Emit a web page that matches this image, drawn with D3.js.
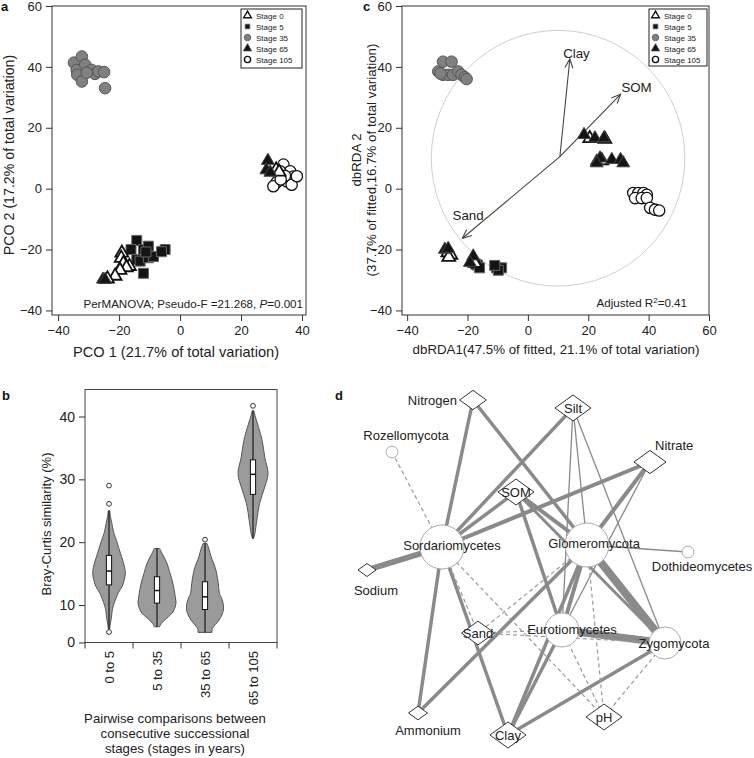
<!DOCTYPE html>
<html><head><meta charset="utf-8">
<script src="https://cdn.jsdelivr.net/npm/d3@7"></script>
<style>
body{margin:0;background:#fff}
svg{display:block;font-family:"Liberation Sans",Arial,Helvetica,sans-serif}
</style>
</head><body>
<svg id="chart" width="754" height="758"></svg>
<script>
// ================= DATA =================
const stageNames = ["Stage 0","Stage 5","Stage 35","Stage 65","Stage 105"];
const axisTicksX_A = [-40,-20,0,20,40];
const axisTicksY_AC = [-40,-20,0,20,40,60];
const axisTicksX_C = [-40,-20,0,20,40,60];

// Panel a: PCO scores per stage [PCO1, PCO2]
const pcoStage0 = [[-19.1,-21.1],[-19.3,-22.8],[-18.6,-24.6],[-16.6,-25.5],[-17.6,-25.9],[-19.7,-26.8],[-21.3,-28.7],[-23.8,-29.6],[31.5,6.2],[32.5,5.5]];
const pcoStage5 = [[-14.2,-17],[-16.1,-20],[-12.0,-20],[-10.4,-18.9],[-14.2,-23.3],[-13.1,-23.8],[-10.4,-22.7],[-8.7,-22.3],[-12.0,-27.8],[-4.9,-20],[-6.1,-20.7],[-11.2,-20.8]];
const pcoStage35 = [[-34.8,41.4],[-32.2,43.4],[-33.9,39],[-31.1,40.7],[-33.7,37.4],[-32.2,35.2],[-29,39],[-27.9,37.7],[-26.8,38.5],[-24.9,38.3],[-24.6,33],[-30.6,38.1]];
const pcoStage65 = [[-25.3,-29.8],[-24.6,-29.9],[28.8,9.2],[28.3,6.1],[29.6,5.3]];
const pcoStage105 = [[33.9,7.9],[36.1,5.7],[32.8,5.7],[37.2,4],[35,2.4],[31.7,2.1],[30.6,0.8],[36.6,1.3],[38.3,4.1],[34.4,4.2],[33,3]];

// Panel c: dbRDA scores per stage [dbRDA1, dbRDA2]
const rdaStage0 = [[20.5,16.5],[25.5,16.3],[24.5,9.2],[-26.5,-21],[-25.5,-21.8],[-26.2,-22.5],[-18,-23.5],[-17.5,-24.5]];
const rdaStage5 = [[-16.7,-25.1],[-17.3,-24.8],[-10.4,-26],[-8.7,-26],[-9.8,-26.8],[-11,-25.2],[-16,-26]];
const rdaStage35 = [[-29.7,38.5],[-28.1,41.7],[-25.3,41.7],[-28.1,37.4],[-26.4,37.4],[-24.8,37.4],[-23.1,38.5],[-22,37.4],[-20.9,36.6],[-20.3,36],[-29,37.8]];
const rdaStage65 = [[18.6,17.7],[22.2,16.6],[25.2,16.6],[22.8,9],[23.9,10],[27.8,9.5],[30.7,9.5],[31.6,8.4],[22.8,8.4],[-27.5,-20],[-26.4,-19.7],[-18.1,-22.2],[-19.2,-24.3]];
const rdaStage105 = [[34.9,-1.4],[36.6,-1.4],[38.3,-1.4],[39.4,-2],[35.5,-3.1],[37.7,-3.1],[39.4,-3.1],[40.5,-6.3],[42.1,-6.9],[43.5,-7.2]];
// vectors (origin, tip) for environmental variables
const vectorNames = ["Clay","SOM","Sand"];
const vectorOrigin = [10.6,10.5];
const vectorTips = [[13.9,42.6],[30.7,31],[-21.7,-16.3]];
const vectorLabelAt = [[16.1,44.7],[36,33.5],[-19.8,-8.5]];
const circleCenter = [10,10];
const circleRadius = 42;

// Panel b: violins
const violinCats = ["0 to 5","5 to 35","35 to 65","65 to 105"];
const violinTicksY = [0,10,20,30,40];
const violinDensity = [
  [[3.5,0.03],[5,0.07],[6.5,0.12],[8.5,0.17],[9.7,0.22],[11,0.36],[11.9,0.48],[13,0.7],[14,0.8],[15,0.86],[16,0.82],[17.7,0.66],[19,0.52],[20.3,0.39],[21.5,0.25],[23,0.15],[24,0.08],[25,0.04]],
  [[4.2,0.14],[5,0.22],[6,0.4],[7.8,0.79],[9,0.92],[10.3,1.0],[11.3,0.96],[12.5,0.9],[14,0.79],[15.3,0.66],[16.6,0.53],[18,0.3],[19,0.14]],
  [[2.7,0.37],[3.75,0.39],[6,0.74],[8.7,0.97],[10.8,0.91],[11.8,0.76],[13.4,0.7],[15.6,0.57],[17.7,0.32],[19,0.2],[19.8,0.1]],
  [[20.6,0.03],[21.4,0.1],[23.5,0.2],[26.1,0.34],[28.8,0.62],[30.9,0.79],[33.5,0.62],[36.2,0.48],[38.8,0.24],[40.2,0.1],[40.9,0.05]]
];
const violinQ1 = [13.2,10.3,8.8,27.6];
const violinMedian = [15.4,12.3,11.3,30.8];
const violinQ3 = [17.9,14.5,13.7,33.1];
const violinLo = [3.5,4.2,2.7,20.6];
const violinHi = [25,19,19.8,40.9];
const violinOutliers = [[29,26.1,2.8],[],[20.4],[41.7]];

// Panel d: network
const netNames = ["Nitrogen","Silt","Rozellomycota","Nitrate","SOM","Sordariomycetes","Glomeromycota","Dothideomycetes","Sodium","Eurotiomycetes","Zygomycota","Sand","Ammonium","Clay","pH"];
const netKinds = ["env","env","taxon","env","env","taxon","taxon","taxon","env","taxon","taxon","env","env","env","env"];
const netNodeSize = [0.61,0.82,0.27,0.73,0.82,1,1,0.27,0.41,0.77,0.73,0.75,0.43,0.82,0.82];
const netLayoutX = [133,233,52,310,176,102,247,348,27,222,325,138,78,168,264];
const netLayoutY = [30,38,82,92,122,177,175,182,200,260,273,263,343,365,347];
const netEdges = [
  ["Nitrogen","Sordariomycetes",0.5],["Nitrogen","Zygomycota",0.5],
  ["Silt","Sordariomycetes",0.5],["Silt","Eurotiomycetes",0.31],["Silt","Glomeromycota",0.31],["Silt","Zygomycota",0.31],
  ["Nitrate","Sordariomycetes",0.55],["Nitrate","Glomeromycota",0.55],["Nitrate","Eurotiomycetes",0.31],
  ["SOM","Sordariomycetes",0.5],["SOM","Glomeromycota",0.55],["SOM","Zygomycota",0.45],["SOM","Eurotiomycetes",0.5],
  ["Sodium","Sordariomycetes",0.72],["Sordariomycetes","Ammonium",0.5],["Sordariomycetes","Clay",0.5],
  ["Glomeromycota","Ammonium",0.5],["Glomeromycota","Zygomycota",0.9],["Glomeromycota","Eurotiomycetes",0.55],
  ["Glomeromycota","Clay",0.5],["Glomeromycota","Dothideomycetes",0.31],
  ["Eurotiomycetes","Zygomycota",0.85],["Eurotiomycetes","Clay",0.5],["Zygomycota","Clay",0.5],
  ["Rozellomycota","Sordariomycetes",-0.3],["Sordariomycetes","Sand",-0.3],["Sordariomycetes","pH",-0.3],
  ["Glomeromycota","Sand",-0.3],["Glomeromycota","pH",-0.3],["Sand","Eurotiomycetes",-0.3],
  ["Sand","Zygomycota",-0.3],["Eurotiomycetes","pH",-0.3],["Zygomycota","pH",-0.3]
];

// ================= DRAWING =================
const svg = d3.select("#chart");
const TXT = "#222";

function styleAxis(g, fs){
  g.select(".domain").remove();
  g.selectAll(".tick line").attr("stroke","#333");
  g.selectAll(".tick text").attr("fill",TXT).attr("font-size",fs).attr("font-family","Liberation Sans, Arial, sans-serif");
}

const symbolStyles = [
  {type:d3.symbolTriangle, size:72, fill:"#fff", stroke:"#111", sw:1.8, lsize:26},
  {type:d3.symbolSquare, size:100, fill:"#141414", stroke:"#666", sw:1, lsize:22},
  {type:d3.symbolCircle, size:105, fill:"#808080", stroke:"#555", sw:1, lsize:34},
  {type:d3.symbolTriangle, size:72, fill:"#141414", stroke:"#444", sw:1, lsize:30},
  {type:d3.symbolCircle, size:100, fill:"#fff", stroke:"#111", sw:1.3, lsize:30}
];
const drawOrder = [2,4,1,0,3];

function scatter(g, x, y, sets){
  drawOrder.forEach(i=>{
    const st = symbolStyles[i];
    g.append("g").selectAll("path").data(sets[i]).join("path")
      .attr("d", d3.symbol().type(st.type).size(st.size))
      .attr("transform", d=>`translate(${x(d[0])},${y(d[1])})`)
      .attr("fill", st.fill).attr("stroke", st.stroke).attr("stroke-width", st.sw);
  });
}

function legend(g, x0, y0, w, h, symX, txtX){
  g.append("rect").attr("x",x0).attr("y",y0).attr("width",w).attr("height",h)
    .attr("fill","#fff").attr("stroke","#222").attr("stroke-width",1);
  const rows = d3.scaleLinear().domain([0,4]).range([y0+6.5, y0+50.5]);
  stageNames.forEach((s,i)=>{
    const st = symbolStyles[i];
    g.append("path").attr("d", d3.symbol().type(st.type).size(st.lsize))
      .attr("transform",`translate(${symX},${rows(i)})`)
      .attr("fill", st.fill).attr("stroke", st.stroke).attr("stroke-width", i===0?1.4:(i===4?1.4:0.8));
    g.append("text").attr("x",txtX).attr("y",rows(i)+3).attr("font-size",8).attr("fill",TXT).text(s);
  });
}

// ---------- Panel a ----------
{
  const g = svg.append("g");
  const x = d3.scaleLinear().domain([-42,41.3]).range([52,306]);
  const y = d3.scaleLinear().domain([-41.5,60]).range([315,6]);
  g.append("rect").attr("x",52).attr("y",6).attr("width",254).attr("height",309).attr("fill","none").attr("stroke","#333");
  g.append("g").attr("transform","translate(0,315)")
    .call(d3.axisBottom(x).tickValues(axisTicksX_A).tickSize(6).tickPadding(5).tickSizeOuter(0))
    .call(a=>styleAxis(a,13));
  g.append("g").attr("transform","translate(52,0)")
    .call(d3.axisLeft(y).tickValues(axisTicksY_AC.slice(0,6)).tickSize(6).tickPadding(4).tickSizeOuter(0))
    .call(a=>styleAxis(a,13));
  scatter(g, x, y, [pcoStage0,pcoStage5,pcoStage35,pcoStage65,pcoStage105]);
  legend(g, 241, 9, 61, 59, 247.5, 256);
  const t = g.append("text").attr("x",303).attr("y",308).attr("text-anchor","end").attr("font-size",11.6).attr("fill",TXT);
  t.append("tspan").text("PerMANOVA; Pseudo-F =21.268, ");
  t.append("tspan").attr("font-style","italic").text("P");
  t.append("tspan").text("=0.001");
  g.append("text").attr("x",176).attr("y",357).attr("text-anchor","middle").attr("font-size",14.6).attr("fill",TXT)
    .text("PCO 1 (21.7% of total variation)");
  g.append("text").attr("transform","translate(14,155) rotate(-90)").attr("text-anchor","middle").attr("font-size",14.2).attr("fill",TXT)
    .text("PCO 2 (17.2% of total variation)");
  g.append("text").attr("x",1).attr("y",11).attr("font-size",13).attr("font-weight","bold").attr("fill","#111").text("a");
}

// ---------- Panel c ----------
{
  const g = svg.append("g");
  const x = d3.scaleLinear().domain([-41.7,60]).range([402,709]);
  const y = d3.scaleLinear().domain([-41.5,60]).range([315,6]);
  g.append("ellipse").attr("cx",x(circleCenter[0])).attr("cy",y(circleCenter[1]))
    .attr("rx",x(circleCenter[0]+circleRadius)-x(circleCenter[0]))
    .attr("ry",y(circleCenter[1])-y(circleCenter[1]+circleRadius))
    .attr("fill","none").attr("stroke","#cfcfcf").attr("stroke-width",1);
  g.append("rect").attr("x",402).attr("y",6).attr("width",307).attr("height",309).attr("fill","none").attr("stroke","#333");
  g.append("g").attr("transform","translate(0,315)")
    .call(d3.axisBottom(x).tickValues(axisTicksX_C).tickSize(6).tickPadding(5).tickSizeOuter(0))
    .call(a=>styleAxis(a,13));
  g.append("g").attr("transform","translate(402,0)")
    .call(d3.axisLeft(y).tickValues(axisTicksY_AC).tickSize(6).tickPadding(4).tickSizeOuter(0))
    .call(a=>styleAxis(a,13));
  // arrows
  const defs = svg.append("defs");
  defs.append("marker").attr("id","arr").attr("viewBox","-10 -6 12 12").attr("refX",0).attr("refY",0)
    .attr("markerWidth",12).attr("markerHeight",12).attr("markerUnits","userSpaceOnUse").attr("orient","auto")
    .append("path").attr("d","M-9,-4L0,0L-9,4").attr("fill","none").attr("stroke","#444").attr("stroke-width",1.1);
  vectorTips.forEach((tip,i)=>{
    g.append("line").attr("x1",x(vectorOrigin[0])).attr("y1",y(vectorOrigin[1]))
      .attr("x2",x(tip[0])).attr("y2",y(tip[1])).attr("stroke","#444").attr("stroke-width",1.1)
      .attr("marker-end","url(#arr)");
    g.append("text").attr("x",x(vectorLabelAt[i][0])).attr("y",y(vectorLabelAt[i][1])+5)
      .attr("text-anchor","middle").attr("font-size",13.3).attr("fill",TXT).text(vectorNames[i]);
  });
  scatter(g, x, y, [rdaStage0,rdaStage5,rdaStage35,rdaStage65,rdaStage105]);
  legend(g, 649, 9, 58, 57, 655.5, 664);
  const t = g.append("text").attr("x",687).attr("y",307).attr("text-anchor","end").attr("font-size",11.6).attr("fill",TXT);
  t.append("tspan").text("Adjusted R");
  t.append("tspan").attr("font-size",8).attr("dy",-4).text("2");
  t.append("tspan").attr("dy",4).text("=0.41");
  g.append("text").attr("x",556).attr("y",354).attr("text-anchor","middle").attr("font-size",13.3).attr("fill",TXT)
    .text("dbRDA1(47.5% of fitted, 21.1% of total variation)");
  g.append("text").attr("transform","translate(361,160) rotate(-90)").attr("text-anchor","middle").attr("font-size",13.3).attr("fill",TXT)
    .text("dbRDA 2");
  g.append("text").attr("transform","translate(376,160) rotate(-90)").attr("text-anchor","middle").attr("font-size",13.3).attr("fill",TXT)
    .text("(37.7% of fitted,16.7% of total variation)");
  g.append("text").attr("x",363).attr("y",11).attr("font-size",13).attr("font-weight","bold").attr("fill","#111").text("c");
}

// ---------- Panel b ----------
{
  const g = svg.append("g");
  const x = d3.scaleBand().domain(violinCats).range([85,277]).padding(0);
  const y = d3.scaleLinear().domain([0,10,44.3]).range([642.5,605,389.5]);
  const w = d3.scaleLinear().domain([0,1]).range([0,19]);
  g.append("rect").attr("x",85).attr("y",389.5).attr("width",192).attr("height",253).attr("fill","none").attr("stroke","#444");
  g.append("g").attr("transform","translate(85,0)")
    .call(d3.axisLeft(y).tickValues(violinTicksY).tickSize(6).tickPadding(4).tickSizeOuter(0))
    .call(a=>styleAxis(a,14));
  // boundary ticks
  const bounds = violinCats.map(c=>x(c)).concat([x(violinCats[3])+x.bandwidth()]);
  g.append("g").selectAll("line").data(bounds).join("line")
    .attr("x1",d=>d).attr("x2",d=>d).attr("y1",642.5).attr("y2",648.5).attr("stroke","#333");
  g.append("g").selectAll("text").data(violinCats).join("text")
    .attr("transform",d=>`translate(${x(d)+x.bandwidth()/2+5},651) rotate(-90)`)
    .attr("text-anchor","end").attr("font-size",13).attr("fill",TXT).text(d=>d);
  violinCats.forEach((c,i)=>{
    const cx = x(c)+x.bandwidth()/2;
    const area = d3.area().y(d=>y(d[0])).x0(d=>cx-w(d[1])).x1(d=>cx+w(d[1])).curve(d3.curveCatmullRom.alpha(0.5));
    g.append("path").attr("d",area(violinDensity[i])).attr("fill","#9b9b9b").attr("stroke","#555").attr("stroke-width",1);
    g.append("line").attr("x1",cx).attr("x2",cx).attr("y1",y(violinLo[i])).attr("y2",y(violinHi[i])).attr("stroke","#222").attr("stroke-width",1.3);
    g.append("rect").attr("x",cx-2.6).attr("width",5.2).attr("y",y(violinQ3[i])).attr("height",y(violinQ1[i])-y(violinQ3[i]))
      .attr("fill","#fff").attr("stroke","#111").attr("stroke-width",1);
    g.append("line").attr("x1",cx-2.6).attr("x2",cx+2.6).attr("y1",y(violinMedian[i])).attr("y2",y(violinMedian[i])).attr("stroke","#111").attr("stroke-width",1.5);
    g.append("g").selectAll("circle").data(violinOutliers[i]).join("circle")
      .attr("cx",cx).attr("cy",d=>y(d)).attr("r",2.4).attr("fill","#fff").attr("stroke","#333").attr("stroke-width",1);
  });
  g.append("text").attr("transform","translate(51,524) rotate(-90)").attr("text-anchor","middle").attr("font-size",13).attr("fill",TXT)
    .text("Bray-Curtis similarity (%)");
  ["Pairwise comparisons between","consecutive successional","stages (stages in years)"].forEach((s,i)=>{
    g.append("text").attr("x",175).attr("y",723+i*15).attr("text-anchor","middle").attr("font-size",13.2).attr("fill",TXT).text(s);
  });
  g.append("text").attr("x",2).attr("y",400).attr("font-size",13).attr("font-weight","bold").attr("fill","#111").text("b");
}

// ---------- Panel d ----------
{
  const g = svg.append("g");
  const px = d3.scaleLinear().domain([0,414]).range([340,754]);
  const py = d3.scaleLinear().domain([0,388]).range([370,758]);
  const rS = d3.scaleLinear().domain([0,1]).range([0,22]);
  const wS = d3.scaleLinear().domain([0.3,0.9]).range([1.2,8]);
  const nodes = netNames.map((n,i)=>({name:n, kind:netKinds[i], s:netNodeSize[i], x:px(netLayoutX[i]), y:py(netLayoutY[i])}));
  const byName = Object.fromEntries(nodes.map(n=>[n.name,n]));
  g.append("g").selectAll("line").data(netEdges).join("line")
    .attr("x1",d=>byName[d[0]].x).attr("y1",d=>byName[d[0]].y)
    .attr("x2",d=>byName[d[1]].x).attr("y2",d=>byName[d[1]].y)
    .attr("stroke",d=>d[2]>0?"#8a8a8a":"#9a9a9a")
    .attr("stroke-width",d=>d[2]>0?wS(d[2]):1.2)
    .attr("stroke-dasharray",d=>d[2]>0?null:"4,3");
  nodes.forEach(n=>{
    if(n.kind==="taxon"){
      g.append("circle").attr("cx",n.x).attr("cy",n.y).attr("r",rS(n.s)).attr("fill","#fff").attr("stroke","#aaa").attr("stroke-width",1);
    } else {
      const hw = rS(n.s), hh = hw*0.72;
      g.append("path").attr("d",`M${n.x-hw},${n.y}L${n.x},${n.y-hh}L${n.x+hw},${n.y}L${n.x},${n.y+hh}Z`)
        .attr("fill","#fff").attr("stroke","#333").attr("stroke-width",1);
    }
  });
  const labelPlace = {
    "Nitrogen":[-16,5,"end"], "Rozellomycota":[14,-12,"middle"], "Nitrate":[5,-12,"start"],
    "Dothideomycetes":[14,19,"middle"], "Sodium":[9,25,"middle"], "Ammonium":[10,22,"middle"],
    "Sordariomycetes":[10,3,"middle"], "Glomeromycota":[7,3,"middle"], "Eurotiomycetes":[10,4,"middle"],
    "Zygomycota":[9,5,"middle"]
  };
  nodes.forEach(n=>{
    const p = labelPlace[n.name] || [0,5,"middle"];
    g.append("text").attr("x",n.x+p[0]).attr("y",n.y+p[1]).attr("text-anchor",p[2])
      .attr("font-size",13).attr("fill",TXT).text(n.name);
  });
  g.append("text").attr("x",335).attr("y",400).attr("font-size",13).attr("font-weight","bold").attr("fill","#111").text("d");
}
</script>
</body></html>
